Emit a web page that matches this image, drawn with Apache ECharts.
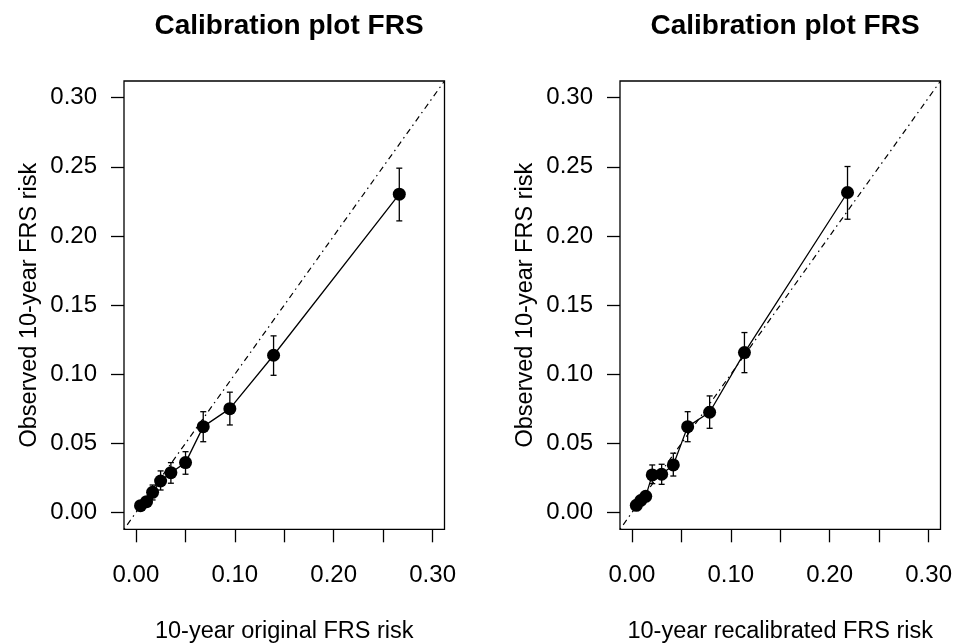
<!DOCTYPE html>
<html>
<head>
<meta charset="utf-8">
<script src="https://cdn.jsdelivr.net/npm/echarts@6/dist/echarts.min.js"></script>
<style>
html,body{margin:0;padding:0;background:#fff;}
#chart{width:954px;height:644px;}
</style>
</head>
<body>
<div id="chart"></div>
<script>
// ---- data ----
var titles = ['Calibration plot FRS', 'Calibration plot FRS'];
var xNames = ['10-year original FRS risk', '10-year recalibrated FRS risk'];
var yName = 'Observed 10-year FRS risk';
var tickValues = [0, 0.05, 0.10, 0.15, 0.20, 0.25, 0.30];
var xLabelValues = [0, 0.10, 0.20, 0.30];
var diagonal = [-0.012, 0.312];

var leftPred = [0.0047, 0.0108, 0.0169, 0.0250, 0.0354, 0.0502, 0.0681, 0.0950, 0.1392, 0.2663];
var leftObs  = [0.0051, 0.0080, 0.0147, 0.0229, 0.0289, 0.0362, 0.0622, 0.0752, 0.1138, 0.2302];
var leftLo   = [0.0030, 0.0055, 0.0092, 0.0164, 0.0213, 0.0278, 0.0513, 0.0634, 0.0993, 0.2109];
var leftHi   = [0.0072, 0.0105, 0.0200, 0.0302, 0.0362, 0.0441, 0.0730, 0.0871, 0.1278, 0.2490];

var rightPred = [0.0045, 0.0090, 0.0140, 0.0206, 0.0301, 0.0419, 0.0564, 0.0786, 0.1138, 0.2180];
var rightObs  = [0.0053, 0.0088, 0.0118, 0.0273, 0.0278, 0.0345, 0.0622, 0.0726, 0.1157, 0.2314];
var rightLo   = [0.0032, 0.0064, 0.0090, 0.0210, 0.0205, 0.0265, 0.0513, 0.0610, 0.1012, 0.2121];
var rightHi   = [0.0074, 0.0112, 0.0150, 0.0345, 0.0350, 0.0430, 0.0730, 0.0844, 0.1302, 0.2502];

// ---- build ----
var FONT = 'Liberation Sans, Arial, sans-serif';
var chart = echarts.init(document.getElementById('chart'), null, {renderer: 'canvas'});

function pairs(xs, ys) { return xs.map(function (x, i) { return [x, ys[i]]; }); }
function errRows(xs, lo, hi) { return xs.map(function (x, i) { return [x, lo[i], hi[i]]; }); }

var grids = [
  {left: 124, top: 81, width: 320.5, height: 448.3},
  {left: 620, top: 81, width: 320.5, height: 448.3}
];
var titleCenters = [284, 780];

function xAxisFor(i) {
  return {
    type: 'value', gridIndex: i, min: diagonal[0], max: diagonal[1], position: 'bottom',
    name: xNames[i], nameLocation: 'middle', nameGap: 90,
    nameTextStyle: {fontFamily: FONT, fontSize: 23.5, color: '#000'},
    axisLine: {show: true, onZero: false, lineStyle: {color: 'transparent'}},
    splitLine: {show: false},
    axisTick: {show: true, inside: false, length: 13, customValues: tickValues,
               lineStyle: {color: '#000', width: 1.3}},
    axisLabel: {show: true, customValues: xLabelValues, margin: 34,
                fontFamily: FONT, fontSize: 24, color: '#000',
                formatter: function (v) { return v.toFixed(2); }}
  };
}
function yAxisFor(i) {
  return {
    type: 'value', gridIndex: i, min: diagonal[0], max: diagonal[1], position: 'left',
    name: yName, nameLocation: 'middle', nameGap: 82, nameRotate: 90,
    nameTextStyle: {fontFamily: FONT, fontSize: 23.5, color: '#000'},
    axisLine: {show: true, onZero: false, lineStyle: {color: 'transparent'}},
    splitLine: {show: false},
    axisTick: {show: true, inside: false, length: 13, customValues: tickValues,
               lineStyle: {color: '#000', width: 1.3}},
    axisLabel: {show: true, customValues: tickValues, margin: 27,
                fontFamily: FONT, fontSize: 24, color: '#000',
                formatter: function (v) { return v.toFixed(2); }}
  };
}

function errSeries(i, rows) {
  return {
    type: 'custom', xAxisIndex: i, yAxisIndex: i, data: rows, z: 3, silent: true,
    renderItem: function (params, api) {
      var x = api.value(0), lo = api.value(1), hi = api.value(2);
      var pLo = api.coord([x, lo]), pHi = api.coord([x, hi]);
      var cap = 3;
      var st = {stroke: '#000', lineWidth: 1.3, fill: null};
      return {type: 'group', children: [
        {type: 'line', shape: {x1: pLo[0], y1: pLo[1], x2: pHi[0], y2: pHi[1]}, style: st},
        {type: 'line', shape: {x1: pLo[0] - cap, y1: pLo[1], x2: pLo[0] + cap, y2: pLo[1]}, style: st},
        {type: 'line', shape: {x1: pHi[0] - cap, y1: pHi[1], x2: pHi[0] + cap, y2: pHi[1]}, style: st}
      ]};
    }
  };
}
function diagSeries(i) {
  return {
    type: 'line', xAxisIndex: i, yAxisIndex: i, data: pairs(diagonal, diagonal),
    symbol: 'none', silent: true, z: 1,
    lineStyle: {color: '#000', width: 1.2, type: [1.5, 4, 6, 4]}
  };
}
function calSeries(i, xs, ys) {
  return {
    type: 'line', xAxisIndex: i, yAxisIndex: i, data: pairs(xs, ys),
    symbol: 'circle', symbolSize: 13, z: 4, silent: true,
    itemStyle: {color: '#000'},
    lineStyle: {color: '#000', width: 1.3}
  };
}

var option = {
  backgroundColor: '#fff',
  animation: false,
  title: titles.map(function (t, i) {
    return {text: t, left: titleCenters[i], top: 7, textAlign: 'center',
            textStyle: {fontFamily: FONT, fontSize: 28, fontWeight: 'bold', color: '#000'}};
  }),
  grid: grids.map(function (g) {
    return {left: g.left, top: g.top, width: g.width, height: g.height,
            containLabel: false, outerBoundsMode: 'none',
            show: true, borderColor: '#000', borderWidth: 1.3, backgroundColor: 'transparent'};
  }),
  xAxis: [xAxisFor(0), xAxisFor(1)],
  yAxis: [yAxisFor(0), yAxisFor(1)],
  series: [
    diagSeries(0),
    errSeries(0, errRows(leftPred, leftLo, leftHi)),
    calSeries(0, leftPred, leftObs),
    diagSeries(1),
    errSeries(1, errRows(rightPred, rightLo, rightHi)),
    calSeries(1, rightPred, rightObs)
  ]
};
chart.setOption(option);
</script>
</body>
</html>
